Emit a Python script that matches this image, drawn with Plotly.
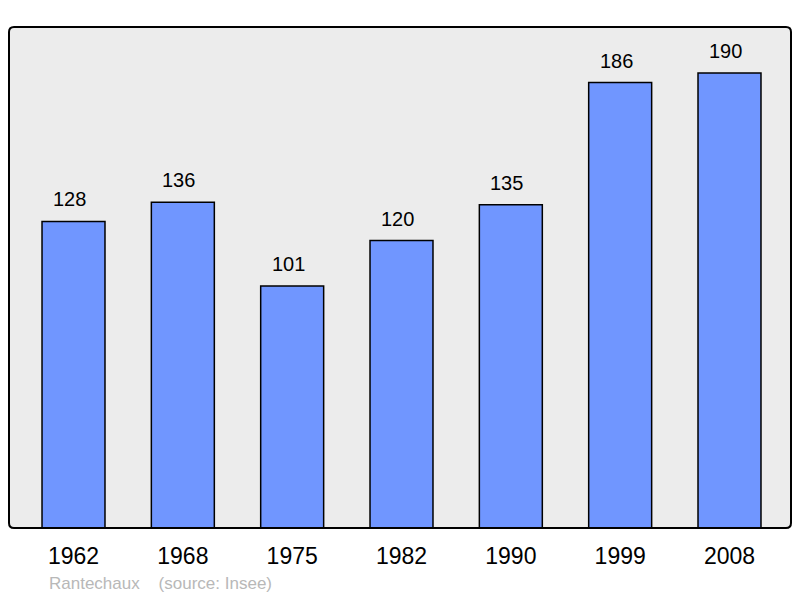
import plotly.graph_objects as go

# Population data per census year.
years = ["1962", "1968", "1975", "1982", "1990", "1999", "2008"]
population = [128, 136, 101, 120, 135, 186, 190]
commune = "Rantechaux"
source = "(source: Insee)"

positions = list(range(len(years)))

fig = go.Figure()
fig.add_trace(go.Bar(
    x=positions, y=population, width=0.576,
    marker_color='#7096ff', marker_line_color='black', marker_line_width=1.5,
    hoverinfo='skip'))

# Value labels above each bar (sit a little left of centre in the original).
for pos, value in zip(positions, population):
    fig.add_annotation(x=pos, y=value, text=str(value), showarrow=False,
                       yanchor='bottom', yshift=9, xshift=-4,
                       font=dict(size=20, color='black'))

fig.add_annotation(xref='paper', yref='paper', x=0.048, y=-0.1098,
                   xanchor='left', yanchor='middle', showarrow=False,
                   text=f"{commune}&nbsp;&nbsp;&nbsp;&nbsp;{source}",
                   font=dict(size=17, color='#b8b8b8'))

# Plot frame with slightly rounded corners.
rx, ry = 5 / 782, 5 / 501
frame = (f"M {rx},0 L {1 - rx},0 Q 1,0 1,{ry} L 1,{1 - ry} Q 1,1 {1 - rx},1 "
         f"L {rx},1 Q 0,1 0,{1 - ry} L 0,{ry} Q 0,0 {rx},0 Z")
fig.add_shape(type='path', xref='paper', yref='paper', path=frame,
              line=dict(color='black', width=2), layer='above')

# The page body has an 8px margin, so the figure is shrunk to fit the window.
fig.update_layout(
    width=792, height=590,
    margin=dict(l=1, r=9, t=19, b=70),
    paper_bgcolor='white', plot_bgcolor='white',
    font=dict(family='Liberation Sans, Arial, sans-serif'),
    showlegend=False,
    xaxis=dict(range=[-0.59, 6.5625], tickvals=positions, ticktext=years,
               showgrid=False, zeroline=False, ticks='',
               ticklabelstandoff=12,
               tickfont=dict(size=23, color='black')),
    yaxis=dict(range=[0, 209.2], showgrid=False, zeroline=False,
               showticklabels=False, ticks=''),
)
fig.add_shape(type='path', xref='paper', yref='paper', path=frame,
              fillcolor='#ececec', line=dict(width=0), layer='below')

fig.write_html("out.html")
